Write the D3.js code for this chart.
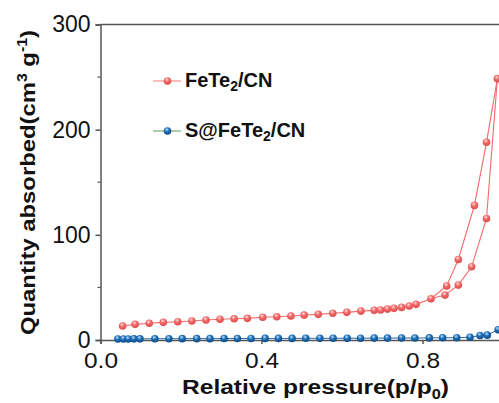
<!DOCTYPE html>
<html>
<head>
<meta charset="utf-8">
<script src="https://cdn.jsdelivr.net/npm/d3@7"></script>
<style>
  html, body { margin: 0; padding: 0; background: #fff; }
  svg { display: block; }
  text { font-family: "Liberation Sans", Arial, sans-serif; }
</style>
</head>
<body>
<svg id="chart" width="499" height="403"></svg>
<script>
// N2 sorption isotherms, relative pressure vs quantity adsorbed
const xTicks = [0.0, 0.4, 0.8];
const yTicks = [0, 100, 200, 300];
const yMinorTicks = [50, 150, 250];

// FeTe2/CN adsorption branch
const feAdsP = [0.055, 0.086, 0.121, 0.156, 0.192, 0.227, 0.262, 0.297, 0.332, 0.365,
  0.403, 0.438, 0.473, 0.506, 0.541, 0.577, 0.612, 0.647, 0.680, 0.696, 0.713, 0.729,
  0.748, 0.767, 0.784, 0.821, 0.856, 0.889, 0.922, 0.959, 0.986];
const feAdsV = [13.3, 14.9, 15.9, 16.8, 17.4, 18.0, 19.0, 19.7, 20.2, 20.6,
  21.6, 22.1, 22.8, 23.7, 24.4, 25.4, 26.3, 27.5, 28.2, 28.5, 29.4, 30.1,
  31.0, 32.3, 33.9, 39.2, 42.7, 52.2, 69.6, 115.6, 248.5];
// FeTe2/CN desorption branch
const feDesP = [0.986, 0.959, 0.929, 0.889, 0.860, 0.821];
const feDesV = [248.5, 188.0, 128.0, 76.6, 51.4, 39.2];

// S@FeTe2/CN
const sP = [0.043, 0.057, 0.069, 0.083, 0.098, 0.135, 0.170, 0.203, 0.239, 0.272,
  0.307, 0.340, 0.374, 0.409, 0.442, 0.476, 0.510, 0.545, 0.578, 0.613, 0.646,
  0.680, 0.713, 0.748, 0.781, 0.817, 0.850, 0.885, 0.918, 0.943, 0.961, 0.988];
const sV = [1.0, 1.0, 1.0, 1.1, 1.1, 1.2, 1.2, 1.3, 1.3, 1.3,
  1.4, 1.4, 1.4, 1.5, 1.5, 1.5, 1.6, 1.6, 1.6, 1.7, 1.7,
  1.8, 1.8, 1.9, 1.9, 2.0, 2.1, 2.2, 2.6, 4.3, 4.6, 9.8];

const seriesNames = ["FeTe\u2082/CN", "S@FeTe\u2082/CN"];

const svg = d3.select("#chart");
const x = d3.scaleLinear().domain([0, 1.0]).range([100.5, 503]);
const y = d3.scaleLinear().domain([0, 300]).range([340, 24.5]);

// sphere-like marker shading
const defs = svg.append("defs");
function sphere(id, hi, mid, edge) {
  const g = defs.append("radialGradient").attr("id", id)
    .attr("cx", "45%").attr("cy", "35%").attr("r", "65%").attr("fx", "40%").attr("fy", "30%");
  g.append("stop").attr("offset", "0%").attr("stop-color", hi);
  g.append("stop").attr("offset", "45%").attr("stop-color", mid);
  g.append("stop").attr("offset", "100%").attr("stop-color", edge);
}
sphere("redBall", "#ffe0e0", "#f26a6a", "#dc4a4a");
sphere("blueBall", "#bfe0ff", "#1f6fb5", "#0c4a86");

const axisColor = "#555";

// frame: top border
svg.append("line").attr("x1", x(0)).attr("x2", 499).attr("y1", y(300)).attr("y2", y(300))
  .attr("stroke", axisColor).attr("stroke-width", 1.5);

// y axis
const yAxis = d3.axisLeft(y).tickValues(yTicks).tickSize(5).tickPadding(5).tickFormat(d3.format("d"));
const gy = svg.append("g").attr("transform", `translate(${x(0)},0)`).call(yAxis);
gy.select(".domain").attr("stroke", axisColor).attr("stroke-width", 1.5);
gy.selectAll(".tick line").attr("stroke", axisColor).attr("stroke-width", 1.5);
gy.selectAll(".tick text").attr("font-size", 23).attr("fill", "#111")
  .attr("font-family", "Liberation Sans, Arial, sans-serif");
gy.selectAll(".minor").data(yMinorTicks).enter().append("line")
  .attr("x1", -3).attr("x2", 0).attr("y1", d => y(d)).attr("y2", d => y(d))
  .attr("stroke", axisColor).attr("stroke-width", 1.2);

// x axis
const xAxis = d3.axisBottom(x).tickValues(xTicks).tickSize(4).tickPadding(8.5).tickFormat(d3.format(".1f"));
const gx = svg.append("g").attr("transform", `translate(0,${y(0)})`).call(xAxis);
gx.select(".domain").attr("stroke", axisColor).attr("stroke-width", 1.5);
gx.selectAll(".tick line").attr("stroke", axisColor).attr("stroke-width", 1.5);
gx.selectAll(".tick text").attr("font-size", 22).attr("fill", "#111")
  .attr("font-family", "Liberation Sans, Arial, sans-serif")
  .attr("textLength", 34).attr("lengthAdjust", "spacingAndGlyphs");

// axis titles
svg.append("text").attr("x", 182).attr("y", 394)
  .attr("font-size", 21).attr("font-weight", "bold").attr("fill", "#111")
  .attr("textLength", 267).attr("lengthAdjust", "spacingAndGlyphs")
  .html('Relative pressure(p/p<tspan font-size="14" dy="5">0</tspan><tspan dy="-5">)</tspan>');
svg.append("text").attr("transform", "translate(35,335) rotate(-90)")
  .attr("font-size", 21).attr("font-weight", "bold").attr("fill", "#111")
  .attr("textLength", 305).attr("lengthAdjust", "spacingAndGlyphs")
  .html('Quantity absorbed(cm<tspan font-size="14" dy="-8">3</tspan><tspan dy="8"> g</tspan><tspan font-size="14" dy="-8">-1</tspan><tspan dy="8">)</tspan>');

// data
const line = d3.line().x(d => x(d[0])).y(d => y(d[1]));
const zip = (a, b) => a.map((v, i) => [v, b[i]]);
const feAds = zip(feAdsP, feAdsV);
const feDes = zip(feDesP, feDesV);
const sData = zip(sP, sV);

svg.append("path").datum(sData).attr("d", line).attr("fill", "none")
  .attr("stroke", "#2a6aa6").attr("stroke-width", 1);
svg.append("path").datum(feAds).attr("d", line).attr("fill", "none")
  .attr("stroke", "#f26a6a").attr("stroke-width", 1.1);
svg.append("path").datum(feDes).attr("d", line).attr("fill", "none")
  .attr("stroke", "#f26a6a").attr("stroke-width", 1.1);

const r = 3.8;
svg.append("g").selectAll("circle").data(sData).enter().append("circle")
  .attr("cx", d => x(d[0])).attr("cy", d => y(d[1])).attr("r", r).attr("fill", "url(#blueBall)");
svg.append("g").selectAll("circle").data(feAds.concat(feDes.slice(1, -1))).enter().append("circle")
  .attr("cx", d => x(d[0])).attr("cy", d => y(d[1])).attr("r", r).attr("fill", "url(#redBall)");

// legend
const legend = [
  { name: seriesNames[0], line: "#f27a7a", fill: "url(#redBall)", y: 81 },
  { name: seriesNames[1], line: "#5a9a5a", fill: "url(#blueBall)", y: 131 }
];
const lg = svg.append("g");
legend.forEach(l => {
  lg.append("line").attr("x1", 153).attr("x2", 181).attr("y1", l.y).attr("y2", l.y)
    .attr("stroke", l.line).attr("stroke-width", 1);
  lg.append("circle").attr("cx", 167.5).attr("cy", l.y).attr("r", r).attr("fill", l.fill);
  const parts = l.name.split("\u2082");
  lg.append("text").attr("x", 185).attr("y", l.y + 6).attr("font-size", 20)
    .attr("font-weight", "bold").attr("fill", "#111")
    .html(`${parts[0]}<tspan font-size="14" dy="4">2</tspan><tspan dy="-4">${parts[1]}</tspan>`);
});
</script>
</body>
</html>
